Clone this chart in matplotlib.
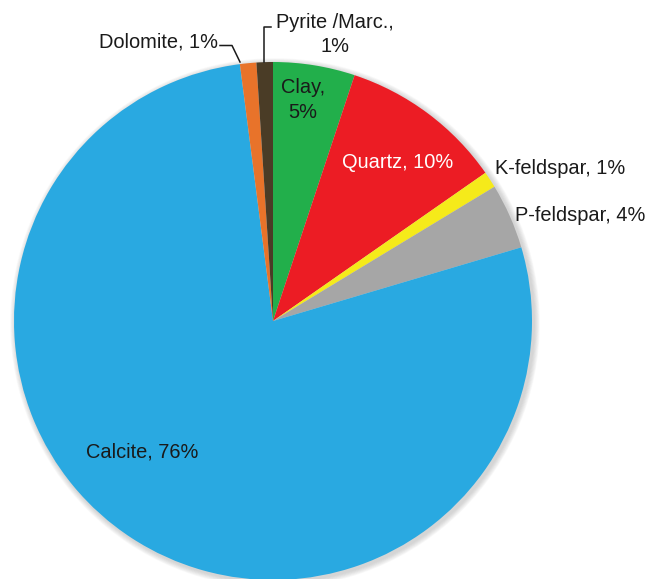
import matplotlib
matplotlib.use("Agg")
import matplotlib.pyplot as plt
from matplotlib.patches import Circle

plt.rcParams["font.family"] = ["Liberation Sans", "DejaVu Sans"]

# Mineral composition (percent), clockwise from 12 o'clock
minerals = ["Clay", "Quartz", "K-feldspar", "P-feldspar", "Calcite", "Dolomite", "Pyrite /Marc."]
percent = [5, 10, 1, 4, 76, 1, 1]
colors = ["#22AF4B", "#EC1C24", "#F5EA1A", "#A6A6A6", "#29A9E1", "#E8732A", "#4A3C26"]

W, H = 651, 579
fig = plt.figure(figsize=(W / 100, H / 100), dpi=100)
ax = fig.add_axes([0, 0, 1, 1])
ax.set_xlim(0, W)
ax.set_ylim(0, H)
ax.set_aspect("equal")
ax.axis("off")


def Y(y):
    # convert a top-down pixel row into the upward data coordinate
    return H - y


cx, cy, r = 273, Y(321), 259

# soft drop shadow around the disc
for i in range(7):
    ax.add_patch(Circle((cx + 2, cy - 2), r + 1 + i * 0.8, color="#808080",
                        alpha=0.05, lw=0, zorder=0))

wedges, _ = ax.pie(percent, colors=colors, startangle=90, counterclock=False,
                   center=(cx, cy), radius=r, frame=True,
                   wedgeprops=dict(linewidth=0))
ax.set_xlim(0, W)
ax.set_ylim(0, H)
ax.axis("off")

fs = 14.4


def label(lines, x, baselines, ha="center", color="#1a1a1a"):
    for line, yb in zip(lines, baselines):
        ax.text(x, Y(yb), line, ha=ha, va="baseline", fontsize=fs, color=color, zorder=5)


def fmt(i):
    return f"{minerals[i]}, {percent[i]}%"


# Clay (inside, two lines)
label([f"{minerals[0]},", f"{percent[0]}%"], 303, [93, 118])
# Quartz (inside, white)
label([fmt(1)], 398, [168], color="white")
# K-feldspar and P-feldspar (outside, right)
label([fmt(2)], 495, [174], ha="left")
label([fmt(3)], 515, [221], ha="left")
# Calcite (inside)
label([fmt(4)], 86, [457], ha="left")
# Dolomite (outside, with leader)
label([fmt(5)], 218, [48], ha="right")
ax.plot([220, 232, 240], [Y(45.5), Y(45.5), Y(62)], color="#1a1a1a", lw=1.1, zorder=4)
# Pyrite / Marcasite (outside, with leader)
label([f"{minerals[6]},", f"{percent[6]}%"], 334.5, [28, 52])
ax.plot([271, 263.5, 263.5], [Y(27), Y(27), Y(62)], color="#1a1a1a", lw=1.1, zorder=4)

fig.savefig("out.png", dpi=100, facecolor="white")
